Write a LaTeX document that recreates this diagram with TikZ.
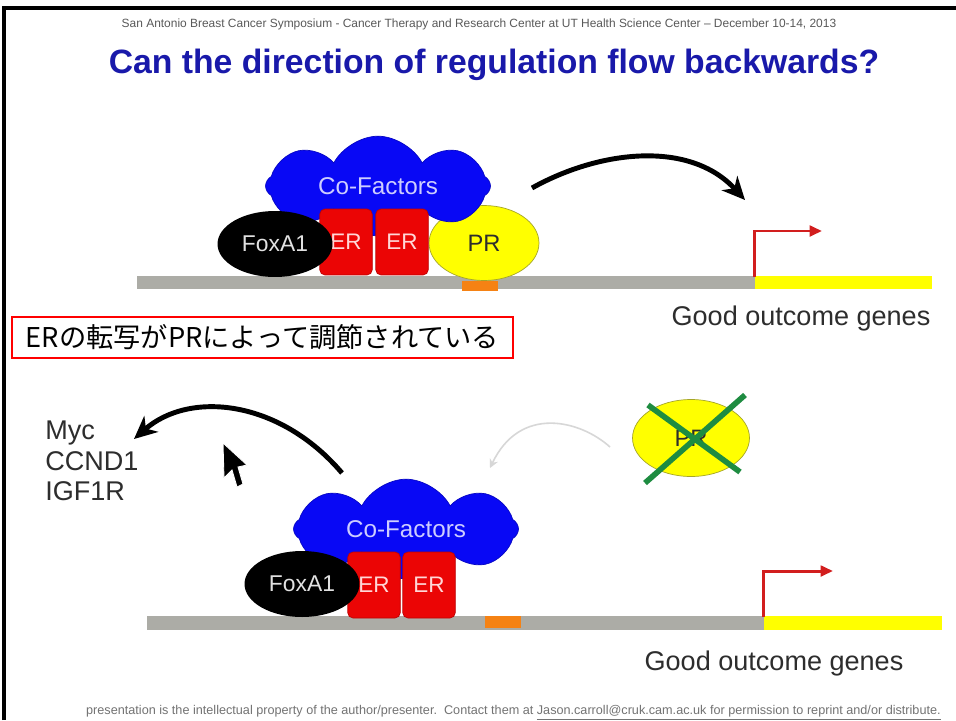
\documentclass[tikz,border=0pt]{standalone}
\usepackage{fontspec}
\setmainfont{Liberation Sans}
\newfontfamily\jpfont{Noto Sans CJK JP}
\usepackage{xcolor}
\usepackage{tikz}
\usetikzlibrary{positioning,shapes,shapes.symbols,arrows.meta}

\definecolor{cfblue}{RGB}{8,8,245}
\definecolor{cftext}{RGB}{205,205,255}
\definecolor{erred}{RGB}{235,5,5}
\definecolor{ertext}{RGB}{255,215,215}
\definecolor{foxtext}{RGB}{225,225,225}
\definecolor{pryellow}{RGB}{255,255,0}
\definecolor{prborder}{RGB}{165,165,40}
\definecolor{dnagray}{RGB}{172,172,166}
\definecolor{geneyellow}{RGB}{255,255,0}
\definecolor{bsorange}{RGB}{245,130,20}
\definecolor{titleblue}{RGB}{25,25,170}
\definecolor{tssred}{RGB}{210,30,30}
\definecolor{xgreen}{RGB}{30,140,65}
\definecolor{txtgray}{RGB}{45,45,45}
\definecolor{faintgray}{RGB}{215,215,215}

\begin{document}
\begin{tikzpicture}[x = 0.02cm, y = -0.02cm,
  cofactor/.style = {cloud, cloud puffs = 8, cloud puff arc = 125, aspect = 2.6,
    fill = cfblue, draw = cfblue!80!black, text = cftext, inner sep = 0pt,
    minimum width = 4.5cm, minimum height = 1.72cm, font = \fontsize{13.8}{15}\selectfont},
  erbox/.style = {draw = erred!80!black, fill = erred, rounded corners = 3pt,
    minimum width = 1.05cm, minimum height = 1.32cm, text = ertext,
    font = \fontsize{12.8}{14}\selectfont},
  foxa/.style = {ellipse, fill = black, minimum width = 2.3cm, minimum height = 1.32cm,
    text = foxtext, font = \fontsize{13}{14}\selectfont},
  prot/.style = {ellipse, fill = pryellow, draw = prborder, minimum width = 2.2cm,
    minimum height = 1.5cm, text = txtgray, font = \fontsize{13.5}{15}\selectfont},
  genes/.style = {text = txtgray, font = \fontsize{15.4}{17.3}\selectfont},
  promoter/.style = {draw = tssred, line width = 1.7pt, -{Triangle[length = 7pt, width = 6pt]}},
  regarrow/.style = {line width = 2.8pt, -{Stealth[length = 13pt, width = 12pt, inset = 4pt]}}]

  \useasboundingbox (0, 0) rectangle (956, 720);
  \fill[white] (0, 0) rectangle (956, 720);

  % frame of the slide
  \draw[line width = 1.8pt] (4, 720) -- (4, 8) -- (956, 8);

  \node[text = black!65, font = \fontsize{6.8}{8}\selectfont] (header) at (479, 24){
    San Antonio Breast Cancer Symposium - Cancer Therapy and Research Center at UT Health Science Center -- December 10-14, 2013
  };

  \node[text = titleblue, font = \bfseries\fontsize{19.2}{22}\selectfont] (title) at (494, 65){
    Can the direction of regulation flow backwards?
  };

  % top: DNA
  \fill[dnagray] (137, 276) rectangle (755, 289);
  \fill[geneyellow] (755, 276) rectangle (932, 289);
  \fill[bsorange] (462, 281) rectangle (498, 291);

  \node[prot] (PR1) at (484, 243){
    PR
  };

  \node[cofactor] (cof1) at (378, 186){
    Co-Factors
  };

  \node[erbox] (ERa1) at (346, 242){
    ER
  };

  \node[erbox] (ERb1) at (402, 242){
    ER
  };

  \node[foxa] (fox1) at (275, 244){
    FoxA1
  };

  \node[genes] (good1) at (801, 318){
    Good outcome genes
  };

  \coordinate (tss1) at (754, 277);
  \coordinate (tss1top) at (754, 231);
  \coordinate (tss1end) at (822, 231);
  \draw[promoter] (tss1) -- (tss1top) -- (tss1end);

  \coordinate (reg1s) at (532, 188);
  \coordinate (reg1e) at (745, 200);
  \draw[regarrow] (reg1s) .. controls (600, 150) and (690, 140) .. (reg1e);

  % note
  \node[draw = red, line width = 1.2pt, fill = white, minimum width = 10.02cm,
    minimum height = 0.82cm, inner sep = 0pt, font = \jpfont\fontsize{15.5}{17}\selectfont]
    (note) at (262.5, 337.5){
    ERの転写がPRによって調節されている
  };

  % bottom: DNA
  \fill[dnagray] (147, 616) rectangle (764, 630);
  \fill[geneyellow] (764, 616) rectangle (942, 630);
  \fill[bsorange] (485, 616) rectangle (521, 628);

  \node[cofactor] (cof2) at (406, 529){
    Co-Factors
  };

  \node[erbox] (ERa2) at (374, 585){
    ER
  };

  \node[erbox] (ERb2) at (429, 585){
    ER
  };

  \node[foxa] (fox2) at (302, 584){
    FoxA1
  };

  \node[genes] (good2) at (774, 663){
    Good outcome genes
  };

  \node[genes, anchor = north west, align = left, inner sep = 0pt] (targets) at (45, 421){
    Myc\\CCND1\\IGF1R
  };

  \coordinate (tss2) at (763, 617);
  \coordinate (tss2top) at (763, 571);
  \coordinate (tss2end) at (833, 571);
  \draw[promoter] (tss2) -- (tss2top) -- (tss2end);

  \coordinate (reg2s) at (342, 473);
  \coordinate (reg2e) at (134, 439);
  \draw[regarrow] (reg2s) .. controls (280, 400) and (190, 390) .. (reg2e);

  % PR is gone
  \node[prot, minimum width = 2.34cm, minimum height = 1.54cm] (PR2) at (691, 438){
    PR
  };
  \coordinate (xa1) at (648, 405);
  \coordinate (xa2) at (740, 472);
  \coordinate (xb1) at (745, 395);
  \coordinate (xb2) at (645, 483);
  \draw[xgreen, line width = 3.2pt] (xa1) -- (xa2);
  \draw[xgreen, line width = 3.2pt] (xb1) -- (xb2);

  \coordinate (weak1) at (610, 447);
  \coordinate (weak2) at (490, 468);
  \draw[faintgray, line width = 0.9pt, -{Stealth[length = 5pt, width = 5pt]}]
    (weak1) .. controls (580, 420) and (520, 405) .. (weak2);

  % mouse pointer
  \filldraw[fill = black, draw = white, line width = 0.5pt]
    (223, 443) -- (224, 478) -- (232, 470) -- (237, 487) -- (243, 484)
    -- (238, 467) -- (247, 465) -- cycle;

  \node[anchor = west, text = black!55, font = \fontsize{7.2}{8}\selectfont] (footer) at (80, 713){
    presentation is the intellectual property of the author/presenter.\ \ Contact them at
    \underline{Jason.carroll@cruk.cam.ac.uk for permission to reprint and/or distribute.}
  };
\end{tikzpicture}
\end{document}
